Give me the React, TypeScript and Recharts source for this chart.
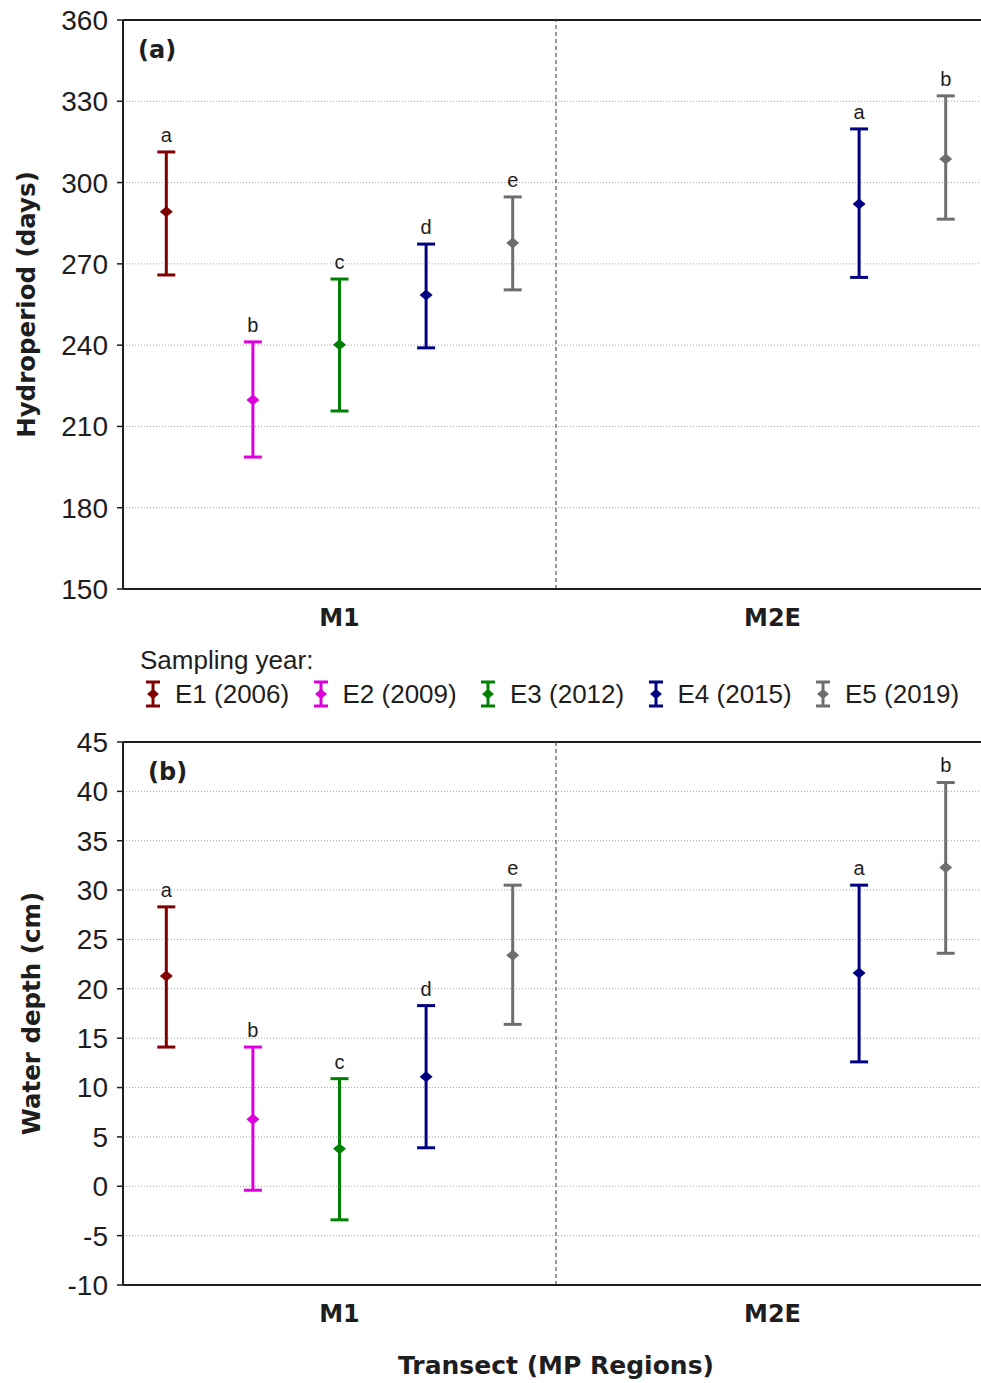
import React from "react";
import {
  ScatterChart,
  Scatter,
  XAxis,
  YAxis,
  CartesianGrid,
  ErrorBar,
  ReferenceLine,
  Legend,
} from "recharts";

// sampling years (series) and transects (groups on the x axis)
const years = ["E1 (2006)", "E2 (2009)", "E3 (2012)", "E4 (2015)", "E5 (2019)"];
const transects = ["M1", "M2E"];
const colors = ["#800000", "#dd00dd", "#008000", "#000080", "#6e6e6e"];

// (a) hydroperiod in days, one row per year: [M1, M2E]
const hydroMean = [[289.2, null], [219.8, null], [240.1, null], [258.5, 292.1], [277.7, 308.7]];
const hydroLow = [[265.9, null], [198.7, null], [215.7, null], [239.0, 265.0], [260.4, 286.5]];
const hydroHigh = [[311.3, null], [241.2, null], [264.4, null], [277.3, 319.8], [294.7, 332.0]];
const hydroLetters = [["a", null], ["b", null], ["c", null], ["d", "a"], ["e", "b"]];
const hydroTicks = [150, 180, 210, 240, 270, 300, 330, 360];

// (b) water depth in cm
const depthMean = [[21.3, null], [6.8, null], [3.8, null], [11.1, 21.6], [23.4, 32.3]];
const depthLow = [[14.1, null], [-0.4, null], [-3.4, null], [3.9, 12.6], [16.4, 23.6]];
const depthHigh = [[28.3, null], [14.1, null], [10.9, null], [18.3, 30.5], [30.5, 40.9]];
const depthLetters = [["a", null], ["b", null], ["c", null], ["d", "a"], ["e", "b"]];
const depthTicks = [-10, -5, 0, 5, 10, 15, 20, 25, 30, 35, 40, 45];

const ARIAL = "'Liberation Sans', Arial, sans-serif";
const BOLD = "'DejaVu Sans', Verdana, sans-serif";
const INK = "#1e1e1e";

function seriesPoints(mean: any[], low: any[], high: any[], s: number) {
  const out: any[] = [];
  transects.forEach((_, g) => {
    const m = mean[s][g];
    if (m == null) return;
    out.push({ x: g * 5 + s + 0.5, y: m, err: [m - low[s][g], high[s][g] - m] });
  });
  return out;
}

function letterPoints(high: any[], letters: any[], s: number) {
  const out: any[] = [];
  transects.forEach((_, g) => {
    if (letters[s][g] == null) return;
    out.push({ x: g * 5 + s + 0.5, y: high[s][g], letter: letters[s][g] });
  });
  return out;
}

const Diamond = (p: any) => (
  <polygon
    points={`${p.cx - 6.5},${p.cy} ${p.cx},${p.cy - 5.5} ${p.cx + 6.5},${p.cy} ${p.cx},${p.cy + 5.5}`}
    fill={p.fill}
  />
);

const Letter = (p: any) => (
  <text x={p.cx} y={p.cy - 10} textAnchor="middle" fontSize={20} fontFamily={ARIAL} fill={INK}>
    {p.payload.letter}
  </text>
);

function LegendIcon({ color }: { color: string }) {
  return (
    <svg width={20} height={28} style={{ display: "block" }}>
      <line x1={10} y1={2} x2={10} y2={26} stroke={color} strokeWidth={3} />
      <line x1={3} y1={2} x2={17} y2={2} stroke={color} strokeWidth={3} />
      <line x1={3} y1={26} x2={17} y2={26} stroke={color} strokeWidth={3} />
      <polygon points="4,14 10,9 16,14 10,19" fill={color} />
    </svg>
  );
}

function renderLegend() {
  return (
    <div style={{ fontFamily: ARIAL, fontSize: 26, color: INK, position: "relative", height: 80 }}>
      <div style={{ position: "absolute", left: 140, top: 5, lineHeight: "30px" }}>Sampling year:</div>
      <div style={{ position: "absolute", left: 143, top: 39, display: "flex" }}>
        {years.map((y, i) => (
          <div key={y} style={{ width: 167.5, display: "flex", alignItems: "center" }}>
            <LegendIcon color={colors[i]} />
            <span style={{ marginLeft: 12, lineHeight: "30px", whiteSpace: "nowrap" }}>{y}</span>
          </div>
        ))}
      </div>
    </div>
  );
}

type PanelProps = {
  mean: any[];
  low: any[];
  high: any[];
  letters: any[];
  ticks: number[];
  title: string;
  titleX: number;
  tag: string;
  tagX: number;
  height: number;
  top: number;
  xAxisHeight: number;
  xTitle?: string;
  withLegend?: boolean;
};

function Panel(props: PanelProps) {
  const { ticks } = props;
  const lo = ticks[0];
  const hi = ticks[ticks.length - 1];

  const yTitle = (p: any) => {
    const vb = p.viewBox || { x: 0, y: 0, width: 0, height: 0 };
    const cx = vb.x + props.titleX;
    const cy = vb.y + vb.height / 2;
    return (
      <text
        x={cx}
        y={cy}
        transform={`rotate(-90, ${cx}, ${cy})`}
        textAnchor="middle"
        dominantBaseline="central"
        fontFamily={BOLD}
        fontWeight="bold"
        fontSize={24.5}
        fill={INK}
      >
        {props.title}
      </text>
    );
  };

  const xTitle = (p: any) => {
    if (!props.xTitle) return null;
    const vb = p.viewBox || { x: 0, y: 0, width: 0, height: 0 };
    return (
      <text
        x={vb.x + vb.width / 2}
        y={vb.y + 80}
        textAnchor="middle"
        dominantBaseline="central"
        fontFamily={BOLD}
        fontWeight="bold"
        fontSize={25}
        fill={INK}
      >
        {props.xTitle}
      </text>
    );
  };

  const tagLabel = (p: any) => {
    const vb = p.viewBox || { x: 0, y: 0 };
    return (
      <text x={vb.x + props.tagX} y={vb.y + 38} fontFamily={BOLD} fontWeight="bold" fontSize={24} fill={INK}>
        {props.tag}
      </text>
    );
  };

  return (
    <div style={{ position: "absolute", left: 0, top: props.top }}>
      <ScatterChart
        width={1000}
        height={props.height}
        margin={{ top: props.top === 0 ? 20 : 22, right: 11, bottom: 0, left: 0 }}
      >
        <CartesianGrid vertical={false} stroke="#a0a0a0" strokeDasharray="1 2" />
        <XAxis
          type="number"
          dataKey="x"
          domain={[0, 10]}
          ticks={[2.5, 7.5]}
          tickFormatter={(v: number) => transects[Math.floor(v / 5)]}
          height={props.xAxisHeight}
          axisLine={{ stroke: INK, strokeWidth: 2 }}
          tickLine={false}
          tickSize={0}
          tickMargin={20}
          tick={{ fontFamily: BOLD, fontWeight: "bold", fontSize: 24, fill: INK }}
          label={{ content: xTitle }}
        />
        <YAxis
          type="number"
          dataKey="y"
          domain={[lo, hi]}
          ticks={ticks}
          allowDataOverflow
          width={123}
          axisLine={{ stroke: INK, strokeWidth: 2 }}
          tickLine={{ stroke: INK, strokeWidth: 1.5 }}
          tickSize={6}
          tickMargin={9}
          tick={{ fontFamily: ARIAL, fontSize: 28, fill: INK }}
          label={{ content: yTitle }}
        />
        <ReferenceLine y={hi} stroke={INK} strokeWidth={2} label={{ content: tagLabel }} />
        <ReferenceLine x={5} stroke="#555" strokeDasharray="4 3" strokeWidth={1.2} />
        {years.map((y, s) => (
          <Scatter
            key={y}
            name={y}
            data={seriesPoints(props.mean, props.low, props.high, s)}
            fill={colors[s]}
            shape={Diamond}
            isAnimationActive={false}
          >
            <ErrorBar
              dataKey="err"
              direction="y"
              width={9}
              strokeWidth={3}
              stroke={colors[s]}
              isAnimationActive={false}
            />
          </Scatter>
        ))}
        {years.map((y, s) => (
          <Scatter
            key={"l" + y}
            data={letterPoints(props.high, props.letters, s)}
            shape={Letter}
            legendType="none"
            isAnimationActive={false}
          />
        ))}
        {props.withLegend && (
          <Legend
            layout="horizontal"
            verticalAlign="middle"
            align="center"
            wrapperStyle={{ top: 640, left: 0, width: 981, height: 80 }}
            content={renderLegend}
          />
        )}
      </ScatterChart>
    </div>
  );
}

export default function App() {
  return (
    <div
      style={{
        position: "absolute",
        left: 0,
        top: 0,
        width: 981,
        height: 1383,
        overflow: "hidden",
        background: "#fff",
      }}
    >
      <Panel
        mean={depthMean}
        low={depthLow}
        high={depthHigh}
        letters={depthLetters}
        ticks={depthTicks}
        title="Water depth (cm)"
        titleX={31}
        tag="(b)"
        tagX={25}
        height={663}
        top={720}
        xAxisHeight={98}
        xTitle="Transect (MP Regions)"
      />
      <Panel
        mean={hydroMean}
        low={hydroLow}
        high={hydroHigh}
        letters={hydroLetters}
        ticks={hydroTicks}
        title="Hydroperiod (days)"
        titleX={26}
        tag="(a)"
        tagX={15}
        height={640}
        top={0}
        xAxisHeight={51}
        withLegend
      />
    </div>
  );
}
